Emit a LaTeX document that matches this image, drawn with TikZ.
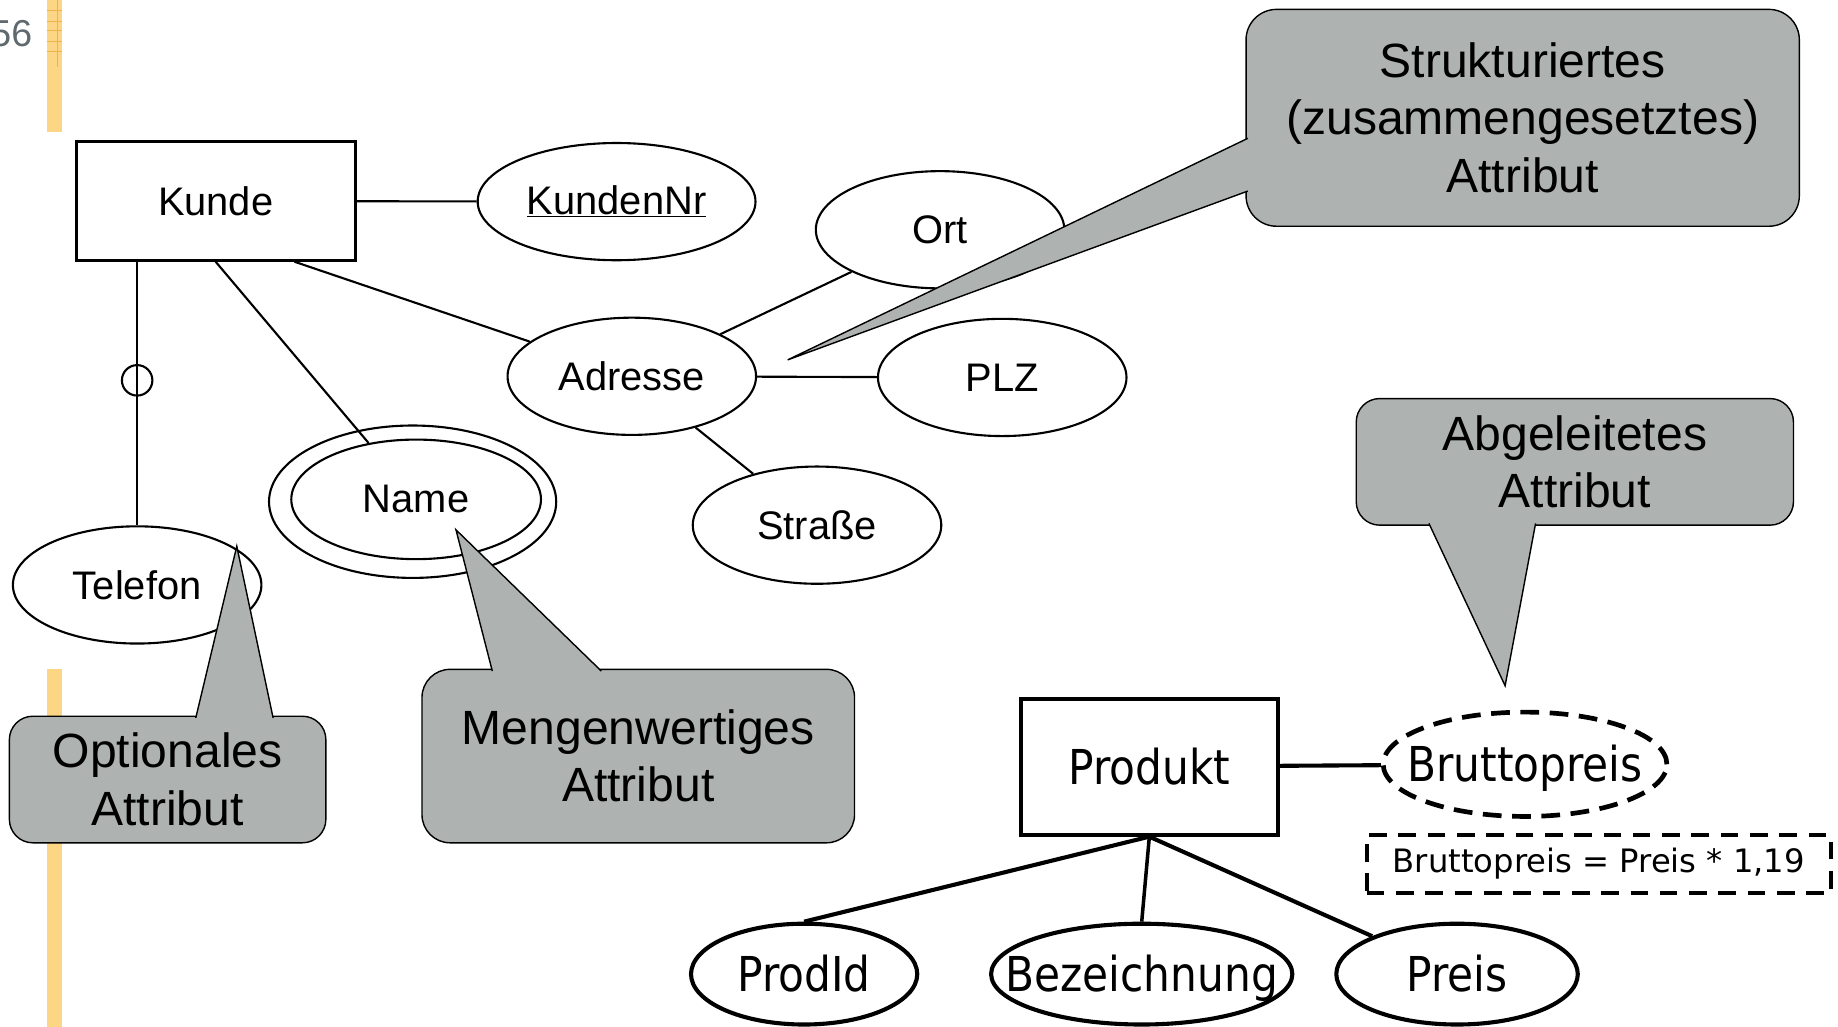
\documentclass[tikz,border=0pt]{standalone}
\usepackage{fontspec}
\setmainfont{Liberation Sans}
\newfontfamily\verdfont[FakeStretch=0.88]{DejaVu Sans}
\newfontfamily\formelfont{DejaVu Sans}
\usetikzlibrary{shapes.geometric}

\definecolor{callgray}{RGB}{174,179,178}
\definecolor{barorange}{RGB}{252,214,132}
\definecolor{gridorange}{RGB}{240,180,70}
\definecolor{pagegray}{RGB}{95,105,110}

\tikzset{
  entity/.style={draw, line width=2.6pt, minimum width=238pt, minimum height=101pt, font=\fontsize{34}{40}\selectfont},
  attr/.style={ellipse, draw, line width=1.8pt, inner sep=0pt, minimum width=212pt, minimum height=100pt, font=\fontsize{34}{40}\selectfont},
  link/.style={line width=1.8pt},
  notebox/.style={fill=callgray, draw, line width=1.2pt},
  notetext/.style={align=center, inner sep=0pt, font=\fontsize{41}{49}\selectfont},
  bigentity/.style={draw, line width=3.5pt, minimum width=219pt, minimum height=116pt, font=\verdfont\fontsize{41}{48}\selectfont},
  bigattr/.style={ellipse, draw, line width=3.5pt, inner xsep=-30pt, inner ysep=0pt, text height=30pt, text depth=0pt,
    minimum height=86pt, font=\verdfont\fontsize{41}{48}\selectfont},
  biglink/.style={line width=3.5pt}
}

\begin{document}
\begin{tikzpicture}[x=1pt, y=-1pt]
  \useasboundingbox (0,0) rectangle (1568,876);

  % Randleiste und Seitenzahl
  \fill[barorange] (40,0) rectangle (53,113);
  \fill[barorange] (40,571) rectangle (53,876);
  \foreach \y in {9,18,26,35,44}
    \draw[gridorange, line width=0.6pt] (40,\y) -- (53,\y);
  \draw[gridorange, line width=0.6pt] (49,0) -- (49,57);
  \node[anchor=east, text=pagegray, font=\fontsize{32}{36}\selectfont] (seite) at (31,29) {56};

  % Kunde
  \node[entity] (kunde) at (184,171.5) {Kunde};
  \node[attr, minimum width=237pt] (kundennr) at (526,172) {\underline{KundenNr}};
  \node[attr] (ort) at (802,196) {Ort};
  \node[attr] (adresse) at (539,321) {Adresse};
  \node[attr] (plz) at (855,322) {PLZ};
  \node[attr] (strasse) at (697,448) {Straße};
  \node[attr] (telefon) at (117,499) {Telefon};
  \node[attr, minimum width=245pt, minimum height=130pt] (namerand) at (352,428) {};
  \node[attr, minimum width=213pt, minimum height=102pt] (name) at (355,426) {Name};

  \draw[link] (kunde) -- (kundennr);
  \draw[link] (kunde.south) -- (name);
  \draw[link] ([xshift=-53pt]kunde.south east) -- (adresse);
  \draw[link] (kunde.south west -| telefon.north) -- (telefon.north)
    node[pos=0.45, circle, draw, line width=1.8pt, minimum size=26pt, inner sep=0pt] (optional) {};
  \draw[link] (adresse) -- (ort);
  \draw[link] (adresse) -- (plz);
  \draw[link] (adresse) -- (strasse);

  % Produkt
  \node[bigentity] (produkt) at (980.5,654) {Produkt};
  \node[bigattr, line width=4pt, dash pattern=on 16pt off 9pt, minimum width=242pt, minimum height=89pt] (brutto) at (1301,652) {Bruttopreis};
  \node[draw, line width=3.4pt, dash pattern=on 15pt off 10pt, minimum width=396pt, minimum height=50pt,
        font=\formelfont\fontsize{27.5}{32}\selectfont] (formel) at (1364,737) {Bruttopreis = Preis * 1,19};
  \node[bigattr, minimum width=193pt] (prodid) at (686,831) {ProdId};
  \node[bigattr, minimum width=257pt] (bez) at (974,831) {Bezeichnung};
  \node[bigattr, minimum width=206pt] (preis) at (1243,831) {Preis};

  \draw[biglink] (produkt) -- (brutto);
  \draw[biglink] (produkt.south) -- (prodid.north);
  \draw[line width=3pt] (produkt.south) -- (bez.north);
  \draw[biglink] (produkt.south) -- (preis);

  % Sprechblasen
  \draw[notebox, rounded corners=26pt] (1063,8) rectangle (1535,193);
  \draw[notebox] (1064.5,118) -- (672,307) -- (1064.5,163);
  \node[notetext] (strukt) at (1299,100.5) {Strukturiertes\\(zusammengesetztes)\\Attribut};

  \draw[notebox, rounded corners=20pt] (1157,340) rectangle (1530,448);
  \draw[notebox] (1219,446.5) -- (1284,585) -- (1310,446.5);
  \node[notetext] (abgel) at (1343.5,394) {Abgeleitetes\\Attribut};

  \draw[notebox, rounded corners=20pt] (8,611) rectangle (278,719);
  \draw[notebox] (167,612.5) -- (202,466) -- (233,612.5);
  \node[notetext] (optnote) at (143,665) {Optionales\\Attribut};

  \draw[notebox, rounded corners=24pt] (360,571) rectangle (729,719);
  \draw[notebox] (420,572.5) -- (389,452) -- (513,572.5);
  \node[notetext] (mengnote) at (544.5,645) {Mengenwertiges\\Attribut};
\end{tikzpicture}
\end{document}
